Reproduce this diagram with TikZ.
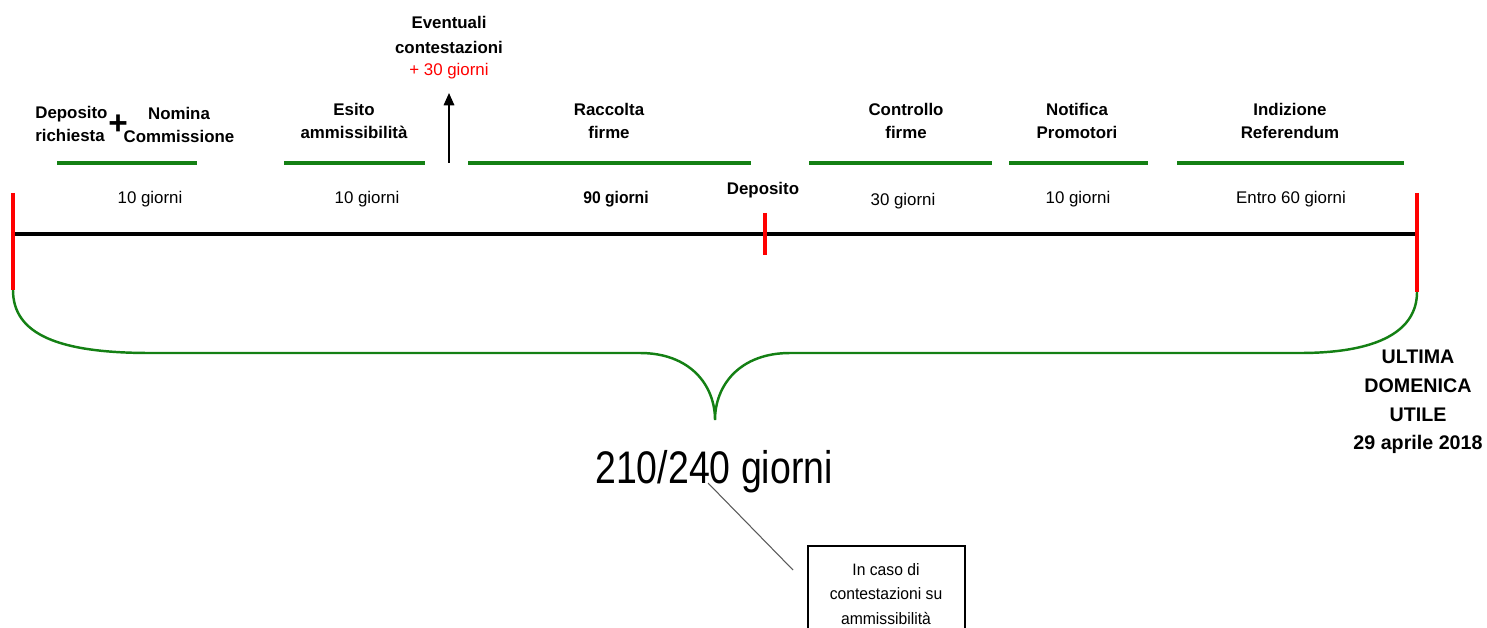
\documentclass[tikz,border=0pt]{standalone}
\usepackage{fontspec}
\setmainfont{Liberation Sans}
\usetikzlibrary{arrows.meta}
\definecolor{tgreen}{RGB}{20,128,20}
\definecolor{tred}{RGB}{255,0,0}
\tikzset{
  lbl/.style={font=\fontsize{9.6pt}{13pt}\selectfont\bfseries, align=center, inner sep=0pt},
  days/.style={font=\fontsize{9.6pt}{13pt}\selectfont, align=center, inner sep=0pt},
  gline/.style={draw=tgreen, line width=2.3pt},
  tick/.style={draw=tred, line width=2.8pt},
}
\begin{document}
\begin{tikzpicture}[x=0.02cm, y=-0.02cm]
\clip (0,0) rectangle (1487,628);
\useasboundingbox (0,0) rectangle (1487,628);

% timeline
\coordinate (tl) at (13,234);
\coordinate (tr) at (1417,234);
\draw[line width=2.8pt] (tl) -- (tr);
\coordinate (lt1) at (13,193); \coordinate (lt2) at (13,290);
\coordinate (rt1) at (1417,193); \coordinate (rt2) at (1417,292);
\coordinate (mt1) at (765,213); \coordinate (mt2) at (765,255);
\draw[tick] (lt1) -- (lt2);
\draw[tick] (rt1) -- (rt2);
\draw[tick] (mt1) -- (mt2);

% green segments
\foreach \a/\b [count=\i] in {57/197, 284/425, 468/751, 809/992, 1009/1148, 1177/1404}{
  \coordinate (g\i a) at (\a,163);
  \coordinate (g\i b) at (\b,163);
  \draw[gline] (g\i a) -- (g\i b);
}

% arrow
\coordinate (ab) at (449,163);
\coordinate (at) at (449,93);
\draw[line width=0.9pt, -{Triangle[length=7pt,width=6pt]}] (ab) -- (at);

% top labels
\node[lbl, align=left, anchor=west] (dep) at (35,124) {Deposito\\richiesta};
\node[font=\fontsize{19pt}{19pt}\selectfont\bfseries, inner sep=0pt] (plus) at (118,125) {+};
\node[lbl] (nom) at (179,125) {Nomina\\Commissione};
\node[lbl] (esi) at (354,121) {Esito\\ammissibilità};
\node[lbl, font=\fontsize{9.6pt}{14pt}\selectfont\bfseries] (eve) at (449,35) {Eventuali\\contestazioni};
\node[days, text=tred] (p30) at (449,71) {+ 30 giorni};
\node[lbl] (rac) at (609,121) {Raccolta\\firme};
\node[lbl] (con) at (906,121) {Controllo\\firme};
\node[lbl] (not) at (1077,121) {Notifica\\Promotori};
\node[lbl] (ind) at (1290,121) {Indizione\\Referendum};

% day labels
\node[days] (d1) at (150,199) {10 giorni};
\node[days] (d2) at (367,199) {10 giorni};
\node[lbl, xscale=0.93] (d3) at (616,199) {90 giorni};
\node[lbl] (depo) at (763,190) {Deposito};
\node[days] (d4) at (903,201) {30 giorni};
\node[days] (d5) at (1078,199) {10 giorni};
\node[days] (d6) at (1291,199) {Entro 60 giorni};

% brace
\draw[draw=tgreen, line width=1.4pt]
  (lt2) .. controls (13,335) and (60,353) .. (150,353)
  -- (640,353) .. controls (690,353) and (715,385) .. (715,420)
  .. controls (715,385) and (740,353) .. (790,353)
  -- (1300,353) .. controls (1380,353) and (1417,330) .. (rt2);

% end label
\node[lbl, font=\fontsize{11.2pt}{16.4pt}\selectfont\bfseries] (ult) at (1418,402) {ULTIMA\\DOMENICA\\UTILE\\29 aprile 2018};

% total
\node[inner sep=0pt, font=\fontsize{26pt}{26pt}\selectfont, xscale=0.82] (tot) at (714,472) {210/240 giorni};

% callout
\coordinate (c1) at (708,483);
\coordinate (c2) at (793,570);
\draw[gray!70!black, line width=0.6pt] (c1) -- (c2);
\draw[line width=0.7pt] (808,546) rectangle (965,660);
\node[days, font=\fontsize{9.4pt}{13.8pt}\selectfont, xscale=0.95] (box) at (886,594) {In caso di\\contestazioni su\\ammissibilità};
\end{tikzpicture}
\end{document}
